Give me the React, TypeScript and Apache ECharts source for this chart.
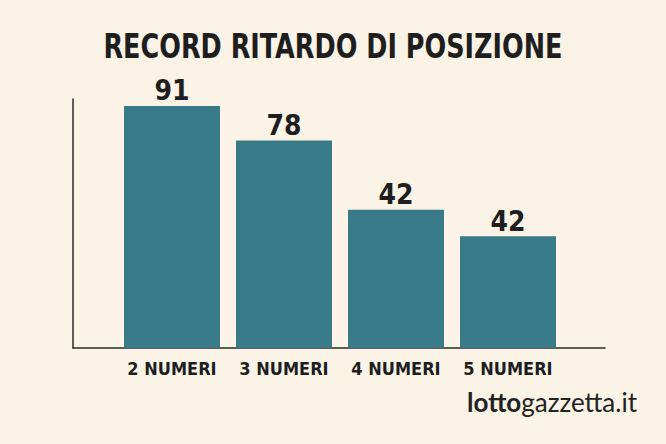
import React, { useEffect, useRef } from 'react';
import * as echarts from 'echarts';

const categories = ['2 NUMERI', '3 NUMERI', '4 NUMERI', '5 NUMERI'];
// bar heights (third bar is drawn taller than its label)
const values = [91, 78, 52, 42];
const valueLabels = ['91', '78', '42', '42'];

const condensed = '"DejaVu Sans Condensed", "Roboto", sans-serif';

const App: React.FC = () => {
  const chartRef = useRef<HTMLDivElement | null>(null);

  useEffect(() => {
    document.body.style.margin = '0';
    if (!chartRef.current) return;
    const chart = echarts.init(chartRef.current, undefined, { renderer: 'svg' });

    const option = {
      animation: false,
      backgroundColor: '#faf3e6',
      grid: [
        { left: 116, right: 102, top: 82, bottom: 96 },
        { left: 73, right: 61, top: 99, bottom: 96 },
      ],
      xAxis: [
        {
          type: 'category',
          data: categories,
          gridIndex: 0,
          axisLine: { show: false },
          axisTick: { show: false },
          axisLabel: { interval: 0, margin: 11, fontFamily: condensed, fontSize: 18, fontWeight: 'bold', color: '#1e1e1e' },
        },
        {
          type: 'value',
          gridIndex: 1,
          min: 0,
          max: 1,
          axisLine: { show: true, lineStyle: { color: '#2b2b2b', width: 1.5 } },
          axisTick: { show: false },
          axisLabel: { show: false },
          splitLine: { show: false },
        },
      ],
      yAxis: [
        {
          type: 'value',
          gridIndex: 0,
          min: 0,
          max: 100,
          show: false,
        },
        {
          type: 'value',
          gridIndex: 1,
          min: 0,
          max: 1,
          axisLine: { show: true, lineStyle: { color: '#2b2b2b', width: 1.5 } },
          axisTick: { show: false },
          axisLabel: { show: false },
          splitLine: { show: false },
        },
      ],
      series: [
        {
          type: 'bar',
          xAxisIndex: 0,
          yAxisIndex: 0,
          data: values,
          barWidth: 96,
          itemStyle: { color: '#397a88' },
          label: {
            show: true,
            position: 'top',
            distance: 1,
            formatter: (p: any) => valueLabels[p.dataIndex],
            fontFamily: condensed,
            fontSize: 28,
            fontWeight: 'bold',
            color: '#1e1e1e',
          },
        },
      ],
      graphic: [
        {
          type: 'text',
          x: 333,
          y: 30,
          scaleX: 0.86,
          style: {
            text: 'RECORD RITARDO DI POSIZIONE',
            textAlign: 'center',
            textVerticalAlign: 'top',
            fontFamily: condensed,
            fontSize: 33,
            fontWeight: 'bold',
            fill: '#1e1e1e',
          },
        },
        {
          type: 'text',
          right: 29,
          top: 389,
          style: {
            text: '{b|lotto}{r|gazzetta.it}',
            rich: {
              b: { fontFamily: 'Lato, sans-serif', fontSize: 26, fontWeight: 'bold', fill: '#222' },
              r: { fontFamily: 'Lato, sans-serif', fontSize: 26, fill: '#222' },
            },
          },
        },
      ],
    };

    chart.setOption(option);
    return () => chart.dispose();
  }, []);

  return <div ref={chartRef} style={{ width: '666px', height: '444px' }} />;
};

export default App;
